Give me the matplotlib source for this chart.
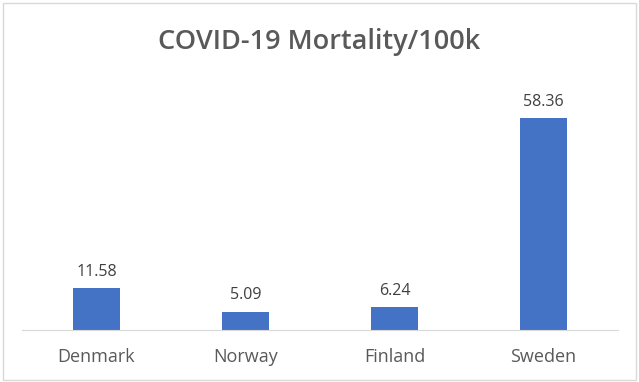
import matplotlib.pyplot as plt
from matplotlib.patches import Rectangle

countries = ['Denmark', 'Norway', 'Finland', 'Sweden']
mortality = [11.58, 5.09, 6.24, 58.36]
value_labels = ['11.58', '5.09', '6.24', '58.36']

plt.rcParams['font.family'] = ['Open Sans', 'DejaVu Sans']
text_color = '#595959'

fig = plt.figure(figsize=(6.39, 3.82), dpi=100)
fig.patches.append(Rectangle((3 / 639, 2 / 382), 633 / 639, 377 / 382,
                             transform=fig.transFigure, fill=False,
                             edgecolor='#D9D9D9', linewidth=1))

ax = fig.add_axes([22 / 639, 52 / 382, 596 / 639, 254 / 382])
x = range(len(countries))
bars = ax.bar(x, mortality, width=0.315, color='#4472C4')

for b, lab in zip(bars, value_labels):
    ax.annotate(lab, (b.get_x() + b.get_width() / 2, b.get_height()),
                xytext=(0, 6), textcoords='offset points',
                ha='center', va='bottom', fontsize=11.5, color='#404040')

ax.set_xlim(-0.5, len(countries) - 0.5)
ax.set_ylim(0, 70)
ax.set_xticks(list(x))
ax.set_xticklabels(countries, fontsize=13, color=text_color)
ax.tick_params(axis='x', length=0, pad=13)
ax.set_yticks([])
for s in ['top', 'left', 'right']:
    ax.spines[s].set_visible(False)
ax.spines['bottom'].set_color('#D9D9D9')

fig.text(0.5, 1 - 42 / 382, 'COVID-19 Mortality/100k', ha='center', va='center',
         fontsize=19.5, fontweight='semibold', color=text_color)

fig.savefig('out.png', dpi=100)
